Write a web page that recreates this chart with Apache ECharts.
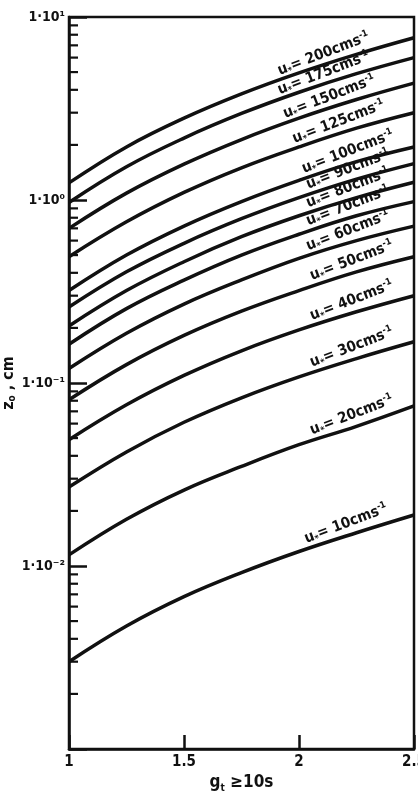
<!DOCTYPE html>
<html>
<head>
<meta charset="utf-8">
<script src="https://cdn.jsdelivr.net/npm/echarts@6/dist/echarts.min.js"></script>
<style>
html,body{margin:0;padding:0;background:#fff;}
#chart{width:418px;height:796px;}
</style>
</head>
<body>
<div id="chart"></div>
<script>
// ---- data ----
const xValues = [1, 1.25, 1.5, 1.75, 2, 2.25, 2.5];
const xTickLabels = ['1', '1.5', '2', '2.5'];
const yTickExps = [1, 0, -1, -2];
const yTickLabels = ['1·10¹', '1·10⁰', '1·10⁻¹', '1·10⁻²'];
const minorTickValues = [
  0.002,0.003,0.004,0.005,0.006,0.007,0.008,0.009,
  0.02,0.03,0.04,0.05,0.06,0.07,0.08,0.09,
  0.2,0.3,0.4,0.5,0.6,0.7,0.8,0.9,
  2,3,4,5,6,7,8,9
];
const uStar = [200, 175, 150, 125, 100, 90, 80, 70, 60, 50, 40, 30, 20, 10];
const z200 = [1.24, 1.95, 2.8, 3.8, 4.95, 6.25, 7.7];
const z175 = [0.97, 1.52, 2.18, 2.97, 3.88, 4.9, 6.0];
const z150 = [0.70, 1.09, 1.57, 2.14, 2.8, 3.54, 4.35];
const z125 = [0.49, 0.76, 1.1, 1.5, 1.95, 2.47, 3.0];
const z100 = [0.32, 0.5, 0.72, 0.98, 1.28, 1.62, 1.95];
const z90  = [0.26, 0.405, 0.58, 0.79, 1.03, 1.3, 1.58];
const z80  = [0.205, 0.32, 0.46, 0.63, 0.82, 1.03, 1.25];
const z70  = [0.163, 0.255, 0.365, 0.5, 0.65, 0.82, 0.98];
const z60  = [0.12, 0.187, 0.27, 0.366, 0.48, 0.6, 0.72];
const z50  = [0.081, 0.126, 0.182, 0.247, 0.32, 0.405, 0.49];
const z40  = [0.049, 0.076, 0.11, 0.15, 0.195, 0.245, 0.30];
const z30  = [0.027, 0.042, 0.061, 0.083, 0.108, 0.136, 0.168];
const z20  = [0.0115, 0.018, 0.026, 0.035, 0.046, 0.058, 0.075];
const z10  = [0.003, 0.0047, 0.0068, 0.0092, 0.012, 0.0152, 0.019];
const zSeries = [z200, z175, z150, z125, z100, z90, z80, z70, z60, z50, z40, z30, z20, z10];

// ---- chart ----
const FONT = '"DejaVu Sans Condensed", "Liberation Sans Narrow", "DejaVu Sans", sans-serif';
const INK = '#111';
const chart = echarts.init(document.getElementById('chart'), null, {renderer: 'canvas'});

const LABEL_IDX = 5;
function labelShift(u) {
  if (u >= 175) return -32;
  if (u >= 150) return -26;
  if (u >= 125) return -16;
  if (u >= 60) return -6;
  if (u >= 20) return -2;
  return -8;
}

const curveSeries = zSeries.map((arr, si) => {
  const u = uStar[si];
  return {
    type: 'line',
    name: 'u' + u,
    smooth: 0.4,
    symbol: 'circle',
    symbolSize: 0,
    showSymbol: true,
    silent: true,
    z: 3,
    lineStyle: {color: INK, width: 3.5},
    itemStyle: {color: INK},
    data: arr.map((v, i) => {
      const item = {value: [xValues[i], v]};
      if (i === LABEL_IDX) {
        item.label = {
          show: true,
          position: 'top',
          distance: 4,
          rotate: 21,
          offset: [labelShift(u), 0],
          formatter: '{u|u}{s|*}{t|= ' + u + 'cms}{p|-1}',
          rich: {
            u: {fontFamily: FONT, fontWeight: 'bold', fontSize: 15, color: INK},
            s: {fontFamily: FONT, fontWeight: 'bold', fontSize: 9, color: INK, verticalAlign: 'bottom', padding: [6, 0, 0, 0]},
            t: {fontFamily: FONT, fontWeight: 'bold', fontSize: 15, color: INK},
            p: {fontFamily: FONT, fontWeight: 'bold', fontSize: 9, color: INK, verticalAlign: 'top', padding: [0, 0, 8, 0]}
          }
        };
      }
      return item;
    })
  };
});

const minorTickSeries = {
  type: 'custom',
  silent: true,
  z: 4,
  data: minorTickValues.map(v => [xValues[0], v]),
  renderItem: function (params, api) {
    const p = api.coord([api.value(0), api.value(1)]);
    return {
      type: 'line',
      shape: {x1: p[0], y1: p[1], x2: p[0] + 9, y2: p[1]},
      style: {stroke: INK, lineWidth: 2.2}
    };
  }
};

const option = {
  backgroundColor: '#fff',
  animation: false,
  grid: {
    left: 69, right: 4, top: 17, bottom: 47,
    containLabel: false,
    outerBoundsMode: 'none',
    show: true, borderColor: INK, borderWidth: 2.5, backgroundColor: 'transparent'
  },
  xAxis: {
    type: 'value',
    min: 1, max: 2.5, interval: 0.5,
    axisLine: {show: true, lineStyle: {color: INK, width: 2.5}},
    axisTick: {show: true, inside: true, length: 14, lineStyle: {color: INK, width: 2.5}},
    splitLine: {show: false},
    axisLabel: {
      margin: 6,
      color: INK, fontFamily: FONT, fontWeight: 'bold', fontSize: 15,
      formatter: function (v) {
        const idx = Math.round((v - 1) / 0.5);
        return xTickLabels[idx] !== undefined ? xTickLabels[idx] : '';
      }
    },
    name: '{g|g}{t|t}{r| ≥10s}',
    nameLocation: 'middle',
    nameGap: 24,
    nameMoveOverlap: false,
    nameTextStyle: {
      rich: {
        g: {fontFamily: FONT, fontWeight: 'bold', fontSize: 17, color: INK},
        t: {fontFamily: FONT, fontWeight: 'bold', fontSize: 10, color: INK, verticalAlign: 'bottom', padding: [10, 0, 0, 0]},
        r: {fontFamily: FONT, fontWeight: 'bold', fontSize: 17, color: INK}
      }
    }
  },
  yAxis: {
    type: 'log',
    logBase: 10,
    min: 0.001, max: 10,
    interval: 1,
    axisLine: {show: true, lineStyle: {color: INK, width: 2.5}},
    axisTick: {show: true, inside: true, length: 18, lineStyle: {color: INK, width: 2.5}},
    minorTick: {show: false},
    splitLine: {show: false},
    axisLabel: {
      margin: 4,
      color: INK, fontFamily: FONT, fontWeight: 'bold', fontSize: 14,
      formatter: function (v) {
        const e = Math.round(Math.log10(v));
        const k = yTickExps.indexOf(e);
        return k >= 0 ? yTickLabels[k] : '';
      }
    },
    name: '{z|z}{o|o}{r| , cm}',
    nameLocation: 'middle',
    nameGap: 52,
    nameRotate: 90,
    nameMoveOverlap: false,
    nameTextStyle: {
      rich: {
        z: {fontFamily: FONT, fontWeight: 'bold', fontSize: 16, color: INK},
        o: {fontFamily: FONT, fontWeight: 'bold', fontSize: 10, color: INK, verticalAlign: 'bottom', padding: [6, 0, 0, 0]},
        r: {fontFamily: FONT, fontWeight: 'bold', fontSize: 16, color: INK}
      }
    }
  },
  series: curveSeries.concat([minorTickSeries])
};
chart.setOption(option);
</script>
</body>
</html>
